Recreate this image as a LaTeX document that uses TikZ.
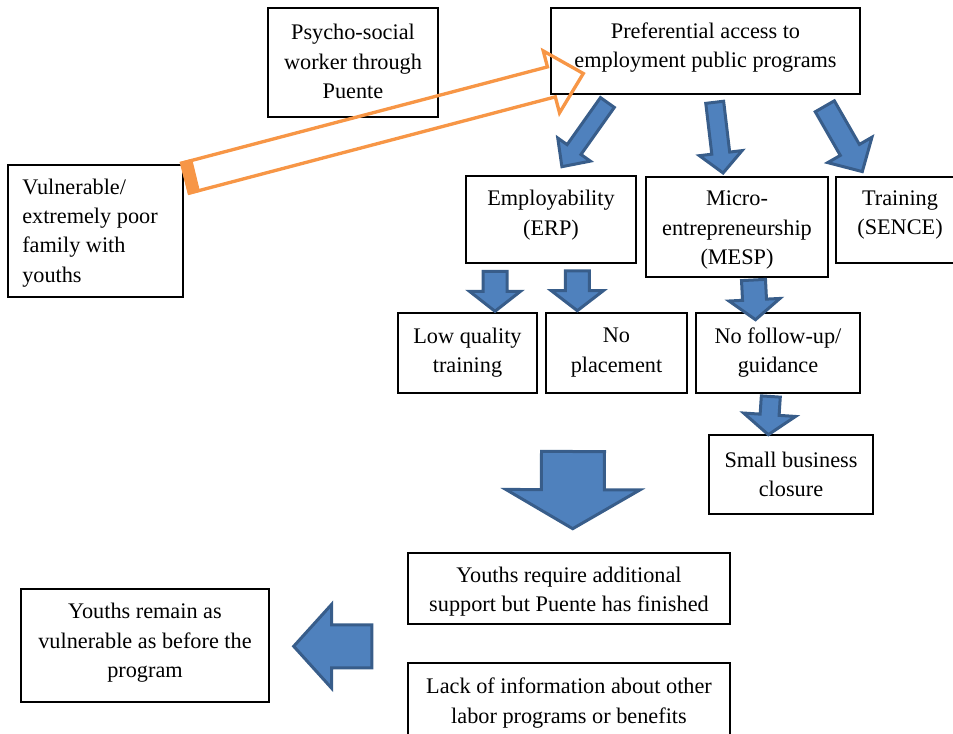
\documentclass[tikz,border=0pt]{standalone}
\usepackage{fontspec}
\setmainfont{Liberation Serif}
\usetikzlibrary{calc,fit}
\definecolor{bfill}{HTML}{4F81BD}
\definecolor{bline}{HTML}{385D8A}
\definecolor{oline}{HTML}{F79646}
\tikzset{
  box/.style={draw=black, line width=0.9pt, rectangle, inner sep=0pt},
  txt/.style={font=\fontsize{16.7}{22}\selectfont, align=center, inner sep=0pt},
  barr/.style={fill=bfill, draw=bline, line width=2.25pt, line join=miter},
  oarr/.style={draw=oline, line width=2.5pt, line join=miter},
}
% block arrow: style, from, to, shaft width, head width, head length (px)
\newcommand{\barrow}[6]{%
  \coordinate (bq) at ($(#3)!#6*0.75pt!(#2)$);
  \draw[#1] ($(#2)!#4*0.375pt!90:(#3)$) -- ($(bq)!#4*0.375pt!90:(#3)$)
    -- ($(bq)!#5*0.375pt!90:(#3)$) -- (#3)
    -- ($(bq)!#5*0.375pt!-90:(#3)$) -- ($(bq)!#4*0.375pt!-90:(#3)$)
    -- ($(#2)!#4*0.375pt!-90:(#3)$) -- cycle;}
\begin{document}
\begin{tikzpicture}[x=0.75pt, y=-0.75pt]
\useasboundingbox (0,0) rectangle (953,734);
\clip (0,0) rectangle (953,734);
% boxes
\node[box, fit={(268,8) (438,117)}] (psy) {};
\node[box, fit={(551,8) (860,94)}] (pref) {};
\node[box, fit={(8,165) (183,297)}] (vul) {};
\node[box, fit={(466,176) (636,263)}] (emp) {};
\node[box, fit={(646,177) (828,277)}] (mic) {};
\node[box, fit={(836,177) (964,263)}] (trn) {};
\node[box, fit={(398,313) (537,393)}] (lowq) {};
\node[box, fit={(546,313) (687,393)}] (nopl) {};
\node[box, fit={(696,313) (860,393)}] (nofu) {};
\node[box, fit={(709,435) (873,514)}] (smb) {};
\node[box, fit={(408,553) (730,624)}] (req) {};
\node[box, fit={(408,663) (730,745)}] (lack) {};
\node[box, fit={(21,589) (269,702)}] (rem) {};
% texts
\node[txt] (psyT) at (353,61.5) {Psycho-social\\worker through\\Puente};
\node[txt] (prefT) at (705.5,47.5) {Preferential access to\\employment public programs};
\node[txt, align=left, anchor=west] (vulT) at (22,233) {Vulnerable/\\extremely poor\\family with\\youths};
\node[txt] (empT) at (551,215) {Employability\\(ERP)};
\node[txt] (micT) at (737,230) {Micro-\\entrepreneurship\\(MESP)};
\node[txt] (trnT) at (900,215) {Training\\(SENCE)};
\node[txt] (lowqT) at (467.5,352.5) {Low quality\\training};
\node[txt] (noplT) at (616.5,352.5) {No\\placement};
\node[txt] (nofuT) at (778,352.5) {No follow-up/\\guidance};
\node[txt] (smbT) at (791,474.5) {Small business\\closure};
\node[txt] (reqT) at (569,591.5) {Youths require additional\\support but Puente has finished};
\node[txt] (lackT) at (569,703) {Lack of information about other\\labor programs or benefits};
\node[txt] (remT) at (145,643) {Youths remain as\\vulnerable as before the\\program};
% arrow end points
\coordinate (a1s) at (607.4,102.5); \coordinate (a1e) at (561.9,166.7);
\coordinate (a2s) at (714.7,102.3); \coordinate (a2e) at (723.1,173);
\coordinate (a3s) at (824.8,106.3); \coordinate (a3e) at (862.3,171.6);
\coordinate (a4s) at (495,271.5);   \coordinate (a4e) at (495,311.3);
\coordinate (a5s) at (577.3,270.8); \coordinate (a5e) at (577.3,310.7);
\coordinate (a6s) at (753.5,280);   \coordinate (a6e) at (755.5,319.7);
\coordinate (a7s) at (770.8,396.5); \coordinate (a7e) at (768.3,434.7);
\coordinate (a8s) at (573,451.5);   \coordinate (a8e) at (572.7,528.7);
\coordinate (a9s) at (371.8,646.3); \coordinate (a9e) at (293.7,646.3);
\coordinate (os) at (185.5,178.1);  \coordinate (oe) at (583.3,73.5);
% blue block arrows
\barrow{barr}{a1s}{a1e}{17}{40}{21}
\barrow{barr}{a2s}{a2e}{18}{43}{20}
\barrow{barr}{a3s}{a3e}{22}{51}{25}
\barrow{barr}{a4s}{a4e}{24}{51}{20}
\barrow{barr}{a5s}{a5e}{24}{52}{20}
\barrow{barr}{a6s}{a6e}{24}{51}{20}
\barrow{barr}{a7s}{a7e}{19}{52}{20}
\barrow{barr}{a8s}{a8e}{63}{134}{39}
\barrow{barr}{a9s}{a9e}{43}{84}{38}
% orange outline arrow
\barrow{oarr}{os}{oe}{31}{64}{33}
\fill[oline] (180,162) -- (192.1,158.8) -- (200.1,191.8) -- (188,195) -- cycle;
\end{tikzpicture}
\end{document}
